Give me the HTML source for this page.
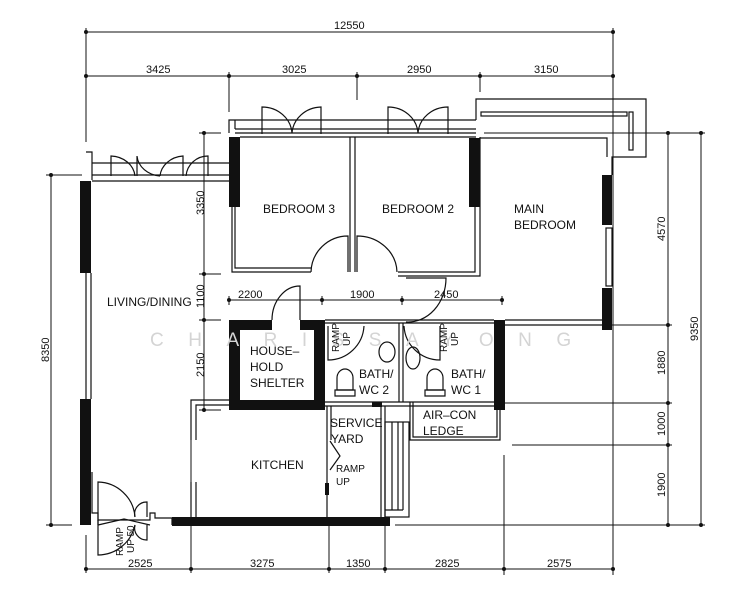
<!DOCTYPE html>
<html><head><meta charset="utf-8"><style>
html,body{margin:0;padding:0;background:#fff;}
svg{display:block;}
text{font-family:"Liberation Sans",sans-serif;fill:#111;}
.d{font-size:11px;}
.r{font-size:12px;}
</style></head><body>
<svg width="752" height="600" viewBox="0 0 752 600" xmlns="http://www.w3.org/2000/svg">
<g stroke="#111" stroke-width="1" fill="none">
<line x1="86" y1="32" x2="613" y2="32"/>
<line x1="86" y1="76" x2="613" y2="76"/>
<line x1="86" y1="28" x2="86" y2="142"/>
<line x1="613" y1="28" x2="613" y2="148"/>
<line x1="229" y1="72" x2="229" y2="112"/>
<line x1="357" y1="72" x2="357" y2="100"/>
<line x1="480" y1="72" x2="480" y2="92"/>
<line x1="51" y1="175" x2="51" y2="525"/>
<line x1="46" y1="175" x2="82" y2="175"/>
<line x1="46" y1="525" x2="72" y2="525"/>
<line x1="204" y1="133" x2="204" y2="410"/>
<line x1="199" y1="133" x2="221" y2="133"/>
<line x1="199" y1="274" x2="221" y2="274"/>
<line x1="199" y1="320" x2="221" y2="320"/>
<line x1="199" y1="410" x2="221" y2="410"/>
<line x1="668" y1="133" x2="668" y2="525"/>
<line x1="701" y1="133" x2="701" y2="525"/>
<line x1="484" y1="133" x2="705" y2="133"/>
<line x1="505" y1="325" x2="672" y2="325"/>
<line x1="505" y1="403" x2="672" y2="403"/>
<line x1="512" y1="445" x2="672" y2="445"/>
<line x1="395" y1="525" x2="705" y2="525"/>
<line x1="613" y1="148" x2="613" y2="575"/>
<line x1="504" y1="455" x2="504" y2="575"/>
<line x1="86" y1="569" x2="613" y2="569"/>
<line x1="86" y1="535" x2="86" y2="573"/>
<line x1="191" y1="400" x2="191" y2="573"/>
<line x1="329" y1="525" x2="329" y2="573"/>
<line x1="385" y1="525" x2="385" y2="573"/>
<line x1="229" y1="300" x2="502" y2="300"/>
<line x1="229" y1="296" x2="229" y2="305"/>
<line x1="322" y1="296" x2="322" y2="305"/>
<line x1="402" y1="296" x2="402" y2="305"/>
<line x1="502" y1="296" x2="502" y2="305"/>
</g>
<g fill="#111">
<circle cx="86" cy="32" r="2"/><circle cx="613" cy="32" r="2"/>
<circle cx="86" cy="76" r="2"/><circle cx="229" cy="76" r="2"/><circle cx="357" cy="76" r="2"/><circle cx="480" cy="76" r="2"/><circle cx="613" cy="76" r="2"/>
<circle cx="51" cy="175" r="2"/><circle cx="51" cy="525" r="2"/>
<circle cx="204" cy="133" r="2"/><circle cx="204" cy="274" r="2"/><circle cx="204" cy="320" r="2"/><circle cx="204" cy="410" r="2"/>
<circle cx="668" cy="133" r="2"/><circle cx="668" cy="325" r="2"/><circle cx="668" cy="403" r="2"/><circle cx="668" cy="445" r="2"/><circle cx="668" cy="525" r="2"/>
<circle cx="701" cy="133" r="2"/><circle cx="701" cy="525" r="2"/>
<circle cx="86" cy="569" r="2"/><circle cx="191" cy="569" r="2"/><circle cx="329" cy="569" r="2"/><circle cx="385" cy="569" r="2"/><circle cx="504" cy="569" r="2"/><circle cx="613" cy="569" r="2"/>
<circle cx="229" cy="300" r="2"/><circle cx="322" cy="300" r="2"/><circle cx="402" cy="300" r="2"/><circle cx="502" cy="300" r="2"/>
</g>
<g stroke="#111" stroke-width="1.2" fill="none">
<path d="M86 152 H92 V180"/>
<line x1="92" y1="163" x2="229" y2="163"/>
<line x1="92" y1="175" x2="229" y2="175"/>
<line x1="92" y1="181" x2="229" y2="181"/>
<path d="M111 176 V156 A25 22 0 0 1 135 176 M137 176 V156 A25 22 0 0 0 160 176 M160 176 A25 22 0 0 1 183 156 V176 M186 176 A22 22 0 0 1 208 156 V176"/>
<line x1="86" y1="273" x2="86" y2="399"/>
<line x1="91" y1="273" x2="91" y2="399"/>
<path d="M229 133 V120 H476"/>
<line x1="235" y1="129" x2="476" y2="129"/>
<line x1="235" y1="120" x2="235" y2="129"/>
<line x1="240" y1="137" x2="476" y2="137"/>
<line x1="235" y1="133" x2="476" y2="133"/>
<path d="M262 134 V107 A30 28 0 0 1 292 133 A30 28 0 0 1 321 107 V134"/>
<path d="M388 134 V107 A30 28 0 0 1 418 133 A30 28 0 0 1 448 107 V134"/>
<path d="M232 207 V272 H311"/>
<path d="M235 207 V268 H311"/>
<path d="M311 272 A37 37 0 0 1 348 236 V272"/>
<line x1="350" y1="137" x2="350" y2="272"/>
<line x1="355" y1="137" x2="355" y2="272"/>
<path d="M357 272 V236 A40 37 0 0 1 397 272"/>
<path d="M398 276 H480 V137"/>
<path d="M398 272 H475 V207"/>
<path d="M406 278 H446 A38 44 0 0 1 406 322"/>
<path d="M476 120 V99 H646 V157 H612 V175"/>
<path d="M480 138 H607 V157"/>
<rect x="481" y="112" width="146" height="4"/>
<rect x="629" y="112" width="4" height="38"/>
<rect x="606" y="228" width="6" height="58"/>
<path d="M505 320 H602 M505 325 H602"/>
<path d="M272 320 A28 34 0 0 1 300 286 V320"/>
<line x1="325" y1="320" x2="494" y2="320"/>
<line x1="325" y1="323" x2="494" y2="323"/>
<line x1="399" y1="323" x2="399" y2="402"/>
<line x1="403" y1="323" x2="403" y2="402"/>
<line x1="322" y1="402" x2="500" y2="402"/>
<line x1="322" y1="406" x2="500" y2="406"/>
<path d="M328 326 V360 A36 36 0 0 0 364 326"/>
<path d="M440 326 V360 A36 36 0 0 1 404 326"/>
<path d="M337 390 V378 A8 9 0 0 1 353 378 V390 Z"/>
<path d="M335 390 H355 V396 H335 Z"/>
<path d="M427 390 V378 A8 9 0 0 1 443 378 V390 Z"/>
<path d="M425 390 H445 V396 H425 Z"/>
<ellipse cx="387" cy="352" rx="8" ry="10"/>
<ellipse cx="413" cy="358" rx="7" ry="11"/>
<line x1="327" y1="406" x2="327" y2="517"/>
<line x1="331" y1="406" x2="331" y2="440"/>
<line x1="381" y1="406" x2="381" y2="517"/>
<line x1="385" y1="406" x2="385" y2="517"/>
<path d="M330 441 L340 456 L330 470"/>
<path d="M191 440 V400 H229 M196 440 V405 H229"/>
<path d="M191 482 V517 M196 482 V517"/>
<path d="M410 402 V440 H500 V402"/>
<path d="M413 402 V437 H497 V410"/>
<rect x="385" y="422" width="24" height="95"/>
<line x1="392" y1="422" x2="392" y2="510"/><line x1="398" y1="422" x2="398" y2="510"/><line x1="403" y1="422" x2="403" y2="510"/>
<line x1="385" y1="510" x2="403" y2="510"/>
<path d="M92 472 V513 H98 V520 H150 V513 H155 V518 H172 V525"/>
<path d="M98 525 V482 A38 38 0 0 1 135 517"/>
<path d="M135 517 A12 12 0 0 1 147 502 V517"/>
<path d="M98 520 V555 A38 38 0 0 0 135 525"/>
<path d="M135 525 A12 12 0 0 0 147 540 V525"/>
<path d="M98 525 L124 519 L150 525"/>
</g>
<g fill="#111">
<rect x="80" y="181" width="11" height="92"/>
<rect x="80" y="399" width="11" height="126"/>
<rect x="229" y="137" width="11" height="70"/>
<rect x="469" y="138" width="11" height="69"/>
<rect x="602" y="175" width="10" height="50"/>
<rect x="602" y="288" width="10" height="42"/>
<rect x="494" y="320" width="11" height="90"/>
<rect x="172" y="517" width="213" height="9"/>
<rect x="229" y="320" width="43" height="10"/>
<rect x="300" y="320" width="25" height="10"/>
<rect x="229" y="320" width="11" height="90"/>
<rect x="314" y="320" width="11" height="90"/>
<rect x="229" y="400" width="96" height="10"/>
<rect x="372" y="402" width="10" height="5"/>
<rect x="380" y="517" width="10" height="9"/>
<rect x="325" y="483" width="4" height="12"/>
</g>
<text x="150" y="346" style="font-size:19px;fill:#d4d4d4;letter-spacing:24.5px">CHARISSAYONG</text>
<g class="d">
<text x="334" y="29">12550</text>
<text x="146" y="73">3425</text>
<text x="282" y="73">3025</text>
<text x="407" y="73">2950</text>
<text x="534" y="73">3150</text>
<text x="128" y="567">2525</text>
<text x="250" y="567">3275</text>
<text x="346" y="567">1350</text>
<text x="435" y="567">2825</text>
<text x="547" y="567">2575</text>
<text x="238" y="298">2200</text>
<text x="350" y="298">1900</text>
<text x="434" y="298">2450</text>
<text transform="translate(49,362) rotate(-90)">8350</text>
<text transform="translate(204,215) rotate(-90)">3350</text>
<text transform="translate(204,308) rotate(-90)">1100</text>
<text transform="translate(204,377) rotate(-90)">2150</text>
<text transform="translate(665,241) rotate(-90)">4570</text>
<text transform="translate(665,375) rotate(-90)">1880</text>
<text transform="translate(665,436) rotate(-90)">1000</text>
<text transform="translate(665,497) rotate(-90)">1900</text>
<text transform="translate(698,341) rotate(-90)">9350</text>
</g>
<g class="r">
<text x="263" y="213">BEDROOM 3</text>
<text x="382" y="213">BEDROOM 2</text>
<text x="514" y="213">MAIN</text>
<text x="514" y="229">BEDROOM</text>
<text x="107" y="306">LIVING/DINING</text>
<text x="250" y="355">HOUSE–</text>
<text x="250" y="371">HOLD</text>
<text x="250" y="387">SHELTER</text>
<text x="359" y="378">BATH/</text>
<text x="359" y="394">WC  2</text>
<text x="451" y="378">BATH/</text>
<text x="451" y="394">WC  1</text>
<text x="330" y="427">SERVICE</text>
<text x="331" y="443">YARD</text>
<text x="251" y="469">KITCHEN</text>
<text x="423" y="419">AIR–CON</text>
<text x="423" y="435">LEDGE</text>
</g>
<g style="font-size:10px">
<text x="336" y="472">RAMP</text>
<text x="336" y="485">UP</text>
<text transform="translate(339,352) rotate(-90)">RAMP</text>
<text transform="translate(350,346) rotate(-90)">UP</text>
<text transform="translate(447,352) rotate(-90)">RAMP</text>
<text transform="translate(458,346) rotate(-90)">UP</text>
<text transform="translate(123,556) rotate(-90)">RAMP</text>
<text transform="translate(134,553) rotate(-90)">UP 50</text>
</g>
</svg>
</body></html>
